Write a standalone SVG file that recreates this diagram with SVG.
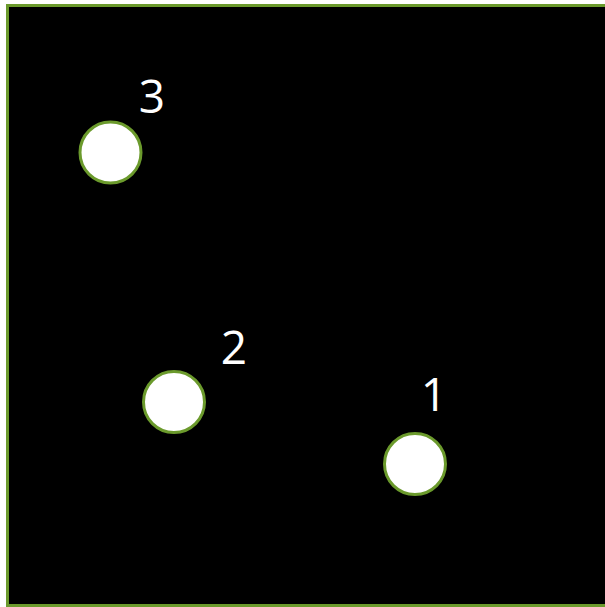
<svg xmlns="http://www.w3.org/2000/svg" width="605" height="607" viewBox="0 0 605 607">
<style>
.pt{fill:#ffffff;stroke:#6b9a2c;stroke-width:3}
.lbl{fill:#ffffff;font-family:"Open Sans","Liberation Sans",sans-serif;font-size:46px;text-anchor:middle}
</style>
<rect x="0" y="0" width="605" height="607" fill="#ffffff"/>
<rect x="7.5" y="5.5" width="600" height="600" fill="#000000" stroke="#6b9a2c" stroke-width="3"/>
<g id="node3">
<circle class="pt" cx="110.5" cy="152.5" r="30.5"/>
<text class="lbl" x="152" y="113">3</text>
</g>
<g id="node2">
<circle class="pt" cx="174" cy="402" r="30.5"/>
<text class="lbl" x="234" y="364">2</text>
</g>
<g id="node1">
<circle class="pt" cx="415" cy="464" r="30.5"/>
<text class="lbl" x="434" y="411">1</text>
</g>
<g id="connectors"></g>
</svg>
